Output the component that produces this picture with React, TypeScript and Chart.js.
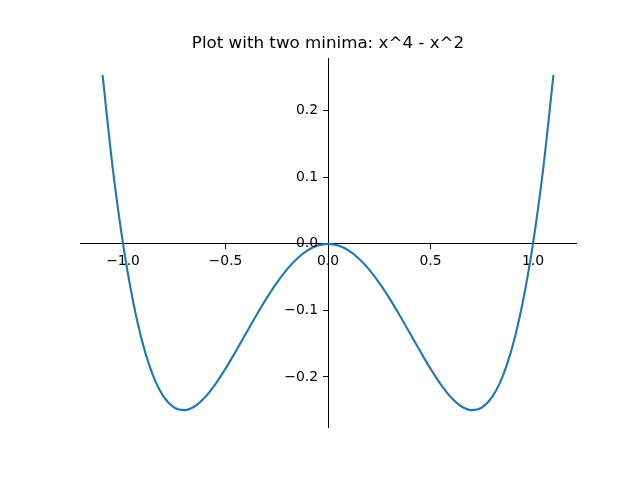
import { useEffect, useRef } from "react"
import { Chart, registerables } from "chart.js"

Chart.register(...registerables)

// curve samples
const xValues = [
  -1.1, -1.05, -1.0, -0.95, -0.9, -0.85, -0.8, -0.75, -0.7, -0.65, -0.6, -0.55, -0.5, -0.45, -0.4, -0.35,
  -0.3, -0.25, -0.2, -0.15, -0.1, -0.05, 0.0, 0.05, 0.1, 0.15, 0.2, 0.25, 0.3, 0.35, 0.4, 0.45, 0.5, 0.55,
  0.6, 0.65, 0.7, 0.75, 0.8, 0.85, 0.9, 0.95, 1.0, 1.05, 1.1,
]
const yValues = [
  0.254, 0.113, 0.0, -0.088, -0.154, -0.2005, -0.2304, -0.2461, -0.2499, -0.244, -0.2304, -0.211, -0.1875,
  -0.1615, -0.1344, -0.1075, -0.0819, -0.0586, -0.0384, -0.022, -0.0099, -0.0025, 0.0, -0.0025, -0.0099,
  -0.022, -0.0384, -0.0586, -0.0819, -0.1075, -0.1344, -0.1615, -0.1875, -0.211, -0.2304, -0.244, -0.2499,
  -0.2461, -0.2304, -0.2005, -0.154, -0.088, 0.0, 0.113, 0.254,
]
const xTicks = [-1.0, -0.5, 0.0, 0.5, 1.0]
const yTicks = [-0.2, -0.1, 0.0, 0.1, 0.2]

const fontFamily = "'DejaVu Sans', sans-serif"
const fmt = (v: number) => v.toFixed(1).replace("-", "\u2212")

// y labels sit left of the centred spine; chart.js puts them on the spine itself
const yLabelPlugin = {
  id: "yLabels",
  afterDraw(chart: any) {
    const { ctx, scales } = chart
    const x0 = scales.x.getPixelForValue(0)
    ctx.save()
    ctx.fillStyle = "#000"
    ctx.font = `13.9px ${fontFamily}`
    ctx.textAlign = "right"
    ctx.textBaseline = "middle"
    yTicks.forEach((v) => {
      ctx.fillText(fmt(v), x0 - 10, scales.y.getPixelForValue(v))
    })
    ctx.restore()
  },
}

export default function App() {
  const canvasRef = useRef<HTMLCanvasElement>(null)
  const chartRef = useRef<Chart | null>(null)

  useEffect(() => {
    if (!canvasRef.current) return
    if (chartRef.current) chartRef.current.destroy()

    chartRef.current = new Chart(canvasRef.current, {
      type: "line",
      data: {
        datasets: [
          {
            data: xValues.map((x, i) => ({ x, y: yValues[i] })),
            borderColor: "#1f77b4",
            borderWidth: 2.1,
            pointRadius: 0,
            cubicInterpolationMode: "monotone",
            fill: false,
          },
        ],
      },
      options: {
        animation: false,
        responsive: true,
        maintainAspectRatio: false,
        layout: { padding: { left: 80, right: 64, top: 0, bottom: 53 } },
        plugins: {
          legend: { display: false },
          tooltip: { enabled: false },
          title: {
            display: true,
            text: "Plot with two minima: x^4 - x^2",
            color: "#000",
            font: { family: fontFamily, size: 16.7, weight: "normal", lineHeight: 1.2 },
            padding: { top: 34, bottom: 4 },
          },
        },
        scales: {
          x: {
            type: "linear",
            min: -1.21,
            max: 1.21,
            position: { y: 0 },
            afterFit: (s: any) => {
              s.height = 0
            },
            afterBuildTicks: (s: any) => {
              s.ticks = xTicks.map((v) => ({ value: v }))
            },
            grid: { drawOnChartArea: false, drawTicks: true, tickLength: 5, color: "#000" },
            border: { color: "#000", width: 1 },
            ticks: {
              color: "#000",
              font: { family: fontFamily, size: 13.9 },
              padding: 4,
              maxRotation: 0,
              autoSkip: false,
              callback: (v: any) => fmt(Number(v)),
            },
          },
          y: {
            type: "linear",
            min: -0.2752,
            max: 0.2793,
            position: { x: 0 },
            afterFit: (s: any) => {
              s.width = 0
            },
            afterBuildTicks: (s: any) => {
              s.ticks = yTicks.map((v) => ({ value: v }))
            },
            grid: { drawOnChartArea: false, drawTicks: true, tickLength: 5, color: "#000" },
            border: { color: "#000", width: 1 },
            ticks: { display: false },
          },
        },
      },
      plugins: [yLabelPlugin],
    })

    return () => {
      if (chartRef.current) {
        chartRef.current.destroy()
        chartRef.current = null
      }
    }
  }, [])

  return (
    <div style={{ position: "fixed", left: 0, top: 0, width: 640, height: 480, background: "#fff" }}>
      <canvas ref={canvasRef} />
    </div>
  )
}
